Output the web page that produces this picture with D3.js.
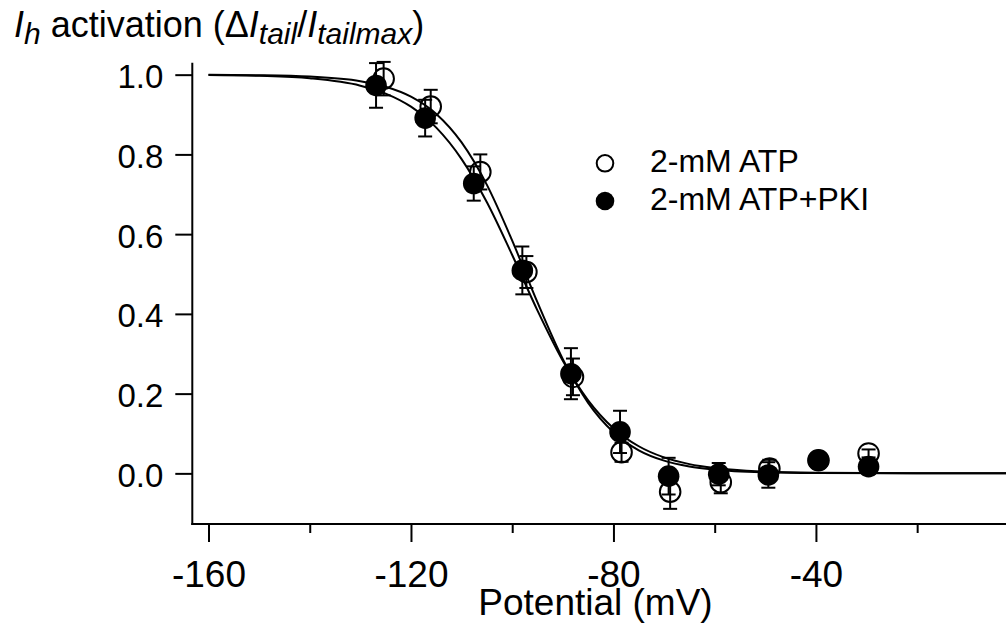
<!DOCTYPE html>
<html>
<head>
<meta charset="utf-8">
<script src="https://cdn.jsdelivr.net/npm/d3@7"></script>
<style>
  html, body { margin: 0; padding: 0; background: #fff; }
  svg { display: block; }
  text { font-family: "Liberation Sans", Arial, sans-serif; fill: #000; }
</style>
</head>
<body>
<svg id="chart" width="1006" height="628"></svg>
<script>
// ---- Data ----
const seriesNames = ["2-mM ATP", "2-mM ATP+PKI"];

// Open circles: 2-mM ATP
const atpV    = [-125.4, -116.1, -106.3, -97.2, -88.0, -78.4, -68.8, -58.8, -49.2, -39.5, -29.6];
const atpMean = [0.990, 0.920, 0.756, 0.505, 0.242, 0.053, -0.046, -0.022, 0.012, 0.033, 0.050];
const atpSem  = [0.042, 0.042, 0.044, 0.040, 0.046, 0.024, 0.043, 0.028, 0.022, 0.015, 0.010];

// Filled circles: 2-mM ATP+PKI
const pkiV    = [-126.9, -117.2, -107.6, -98.0, -88.4, -78.7, -69.1, -59.2, -49.4, -39.5, -29.6];
const pkiMean = [0.973, 0.891, 0.727, 0.509, 0.250, 0.104, -0.007, -0.002, -0.004, 0.033, 0.017];
const pkiSem  = [0.056, 0.046, 0.043, 0.060, 0.064, 0.053, 0.046, 0.028, 0.032, 0.015, 0.012];

// Fitted curves
const curveV      = [-160, -150, -140, -130, -125, -120, -115, -110, -105, -100, -95, -90, -85, -80, -75, -70, -65, -60, -50, -40, -20, 0];
const atpCurveY   = [0.9996, 0.9986, 0.9952, 0.9836, 0.9696, 0.9447, 0.9014, 0.830, 0.7236, 0.5836, 0.4286, 0.2865, 0.1769, 0.1032, 0.0579, 0.0319, 0.0173, 0.0093, 0.0027, 0.0008, 0.0001, 0.0];
const pkiCurveY   = [0.9990, 0.9970, 0.9909, 0.9724, 0.9526, 0.9197, 0.8672, 0.7883, 0.6799, 0.5476, 0.4083, 0.2824, 0.1833, 0.1134, 0.068, 0.040, 0.0232, 0.0134, 0.0044, 0.0014, 0.0001, 0.0];

// Ticks
const xMajorTicks = [-160, -120, -80, -40];
const xMajorLabels = ["-160", "-120", "-80", "-40"];
const xMinorTicks = [-140, -100, -60, -20];
const yTicks = [0.0, 0.2, 0.4, 0.6, 0.8, 1.0];
const yLabels = ["0.0", "0.2", "0.4", "0.6", "0.8", "1.0"];

// ---- Layout ----
const svg = d3.select("#chart");
const plotLeft = 192.3, plotTop = 62.7, plotBottom = 524;
const x = d3.scaleLinear().domain([-163.2, 0]).range([plotLeft, 1018.4]);
const y = d3.scaleLinear().domain([-0.127, 1.03]).range([plotBottom, plotTop]);

const font = "Liberation Sans, Arial, sans-serif";

// ---- X axis ----
const xAxisMajor = d3.axisBottom(x).tickValues(xMajorTicks).tickSize(18)
  .tickFormat((d, i) => xMajorLabels[i]);
const gx = svg.append("g").attr("transform", `translate(0,${plotBottom})`).call(xAxisMajor);
gx.select(".domain").remove();
gx.selectAll(".tick line").attr("stroke", "#000").attr("stroke-width", 2);
gx.selectAll(".tick text").attr("font-size", 37).attr("font-family", font)
  .attr("dy", null).attr("y", 63).attr("fill", "#000");

const xAxisMinor = d3.axisBottom(x).tickValues(xMinorTicks).tickSize(9).tickFormat("");
const gxm = svg.append("g").attr("transform", `translate(0,${plotBottom})`).call(xAxisMinor);
gxm.select(".domain").remove();
gxm.selectAll(".tick line").attr("stroke", "#000").attr("stroke-width", 2);

svg.append("line")
  .attr("x1", plotLeft - 1).attr("x2", x.range()[1])
  .attr("y1", plotBottom).attr("y2", plotBottom)
  .attr("stroke", "#000").attr("stroke-width", 2);

// ---- Y axis ----
const yAxis = d3.axisLeft(y).tickValues(yTicks).tickSize(17).tickPadding(12)
  .tickFormat((d, i) => yLabels[i]);
const gy = svg.append("g").attr("transform", `translate(${plotLeft},0)`).call(yAxis);
gy.select(".domain").remove();
gy.selectAll(".tick line").attr("stroke", "#000").attr("stroke-width", 2);
gy.selectAll(".tick text").attr("font-size", 33).attr("font-family", font)
  .attr("dy", null).attr("y", 13).attr("fill", "#000");

svg.append("line")
  .attr("x1", plotLeft).attr("x2", plotLeft)
  .attr("y1", plotTop).attr("y2", plotBottom + 1)
  .attr("stroke", "#000").attr("stroke-width", 2);

// ---- Axis titles ----
svg.append("text")
  .attr("x", 595.5).attr("y", 615)
  .attr("text-anchor", "middle")
  .attr("font-size", 37)
  .text("Potential (mV)");

const title = svg.append("text").attr("x", 14).attr("y", 37).attr("font-size", 36);
title.append("tspan").attr("font-style", "italic").text("I");
title.append("tspan").attr("font-style", "italic").attr("font-size", 30).attr("dy", 7).text("h");
title.append("tspan").attr("dy", -7).text(" activation (\u0394");
title.append("tspan").attr("font-style", "italic").text("I");
title.append("tspan").attr("font-style", "italic").attr("font-size", 30).attr("dy", 7).text("tail");
title.append("tspan").attr("dy", -7).text("/");
title.append("tspan").attr("font-style", "italic").text("I");
title.append("tspan").attr("font-style", "italic").attr("font-size", 30).attr("dy", 7).text("tailmax");
title.append("tspan").attr("dy", -7).text(")");

// ---- Fitted curves ----
const line = d3.line().x(d => x(d[0])).y(d => y(d[1])).curve(d3.curveMonotoneX);
const atpCurve = curveV.map((v, i) => [v, atpCurveY[i]]);
const pkiCurve = curveV.map((v, i) => [v, pkiCurveY[i]]);
[atpCurve, pkiCurve].forEach(c => {
  svg.append("path").datum(c).attr("d", line)
    .attr("fill", "none").attr("stroke", "#000").attr("stroke-width", 2);
});

// ---- Points with error bars ----
const atpPts = atpV.map((v, i) => ({v, m: atpMean[i], s: atpSem[i]}));
const pkiPts = pkiV.map((v, i) => ({v, m: pkiMean[i], s: pkiSem[i]}));
const capHalf = 7;

function errorBars(pts) {
  const g = svg.append("g").attr("stroke", "#000").attr("stroke-width", 2);
  pts.forEach(p => {
    const cx = x(p.v), y1 = y(p.m + p.s), y2 = y(p.m - p.s);
    g.append("line").attr("x1", cx).attr("x2", cx).attr("y1", y1).attr("y2", y2);
    g.append("line").attr("x1", cx - capHalf).attr("x2", cx + capHalf).attr("y1", y1).attr("y2", y1);
    g.append("line").attr("x1", cx - capHalf).attr("x2", cx + capHalf).attr("y1", y2).attr("y2", y2);
  });
}
errorBars(atpPts);
errorBars(pkiPts);

const r = 10.3;
svg.append("g").selectAll("circle").data(atpPts).join("circle")
  .attr("cx", d => x(d.v)).attr("cy", d => y(d.m)).attr("r", r)
  .attr("fill", "none").attr("stroke", "#000").attr("stroke-width", 2);
svg.append("g").selectAll("circle").data(pkiPts).join("circle")
  .attr("cx", d => x(d.v)).attr("cy", d => y(d.m)).attr("r", r + 0.5)
  .attr("fill", "#000");

// ---- Legend ----
const legend = svg.append("g");
const legendY = [163.3, 201];
legend.append("circle").attr("cx", 605).attr("cy", legendY[0]).attr("r", 8.3)
  .attr("fill", "#fff").attr("stroke", "#000").attr("stroke-width", 2);
legend.append("circle").attr("cx", 605).attr("cy", legendY[1]).attr("r", 9.3)
  .attr("fill", "#000");
seriesNames.forEach((n, i) => {
  legend.append("text").attr("x", 650).attr("y", legendY[i] + 8.5)
    .attr("font-size", 32).text(n);
});
</script>
</body>
</html>
